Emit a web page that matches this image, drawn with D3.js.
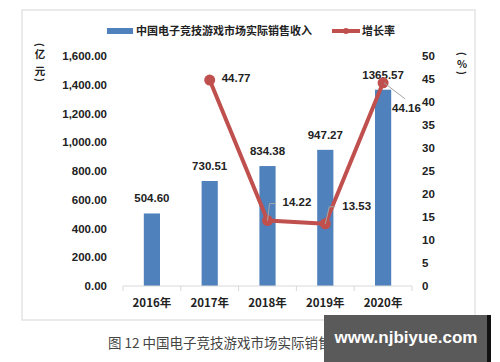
<!DOCTYPE html>
<html>
<head>
<meta charset="utf-8">
<script src="https://cdn.jsdelivr.net/npm/d3@7"></script>
<style>
  body { margin: 0; background: #fff; }
  svg text { font-family: "Liberation Sans", "Noto Sans CJK SC", sans-serif; }
  .cjk { font-family: "Noto Sans CJK SC", sans-serif; }
</style>
</head>
<body>
<svg id="chart" width="500" height="362"></svg>
<script>
var years = ['2016年', '2017年', '2018年', '2019年', '2020年'];
var revenue = [504.60, 730.51, 834.38, 947.27, 1365.57];
var growth = [null, 44.77, 14.22, 13.53, 44.16];
var leftTicks = [0, 200, 400, 600, 800, 1000, 1200, 1400, 1600];
var rightTicks = [0, 5, 10, 15, 20, 25, 30, 35, 40, 45, 50];

var svg = d3.select('#chart');

// chart frame
svg.append('rect')
  .attr('x', 22).attr('y', 10).attr('width', 453).attr('height', 310)
  .attr('fill', '#fff').attr('stroke', '#e3e3e3').attr('stroke-width', 1.5);

var x = d3.scaleBand().domain(years).range([123, 412])
  .paddingInner(0.72).paddingOuter(0.36);
var yL = d3.scaleLinear().domain([0, 1600]).range([286, 56]);
var yR = d3.scaleLinear().domain([0, 50]).range([286, 56]);

// left axis
var axL = svg.append('g').attr('transform', 'translate(110,0)')
  .call(d3.axisLeft(yL).tickValues(leftTicks).tickSize(0)
    .tickFormat(d3.format(',.2f')));
axL.select('.domain').remove();
axL.selectAll('text').attr('font-size', 11.5).attr('font-weight', 'bold')
  .attr('fill', '#222').attr('font-family', 'Liberation Sans');

// right axis
var axR = svg.append('g').attr('transform', 'translate(419,0)')
  .call(d3.axisRight(yR).tickValues(rightTicks).tickSize(0));
axR.select('.domain').remove();
axR.selectAll('text').attr('font-size', 11.5).attr('font-weight', 'bold')
  .attr('fill', '#222').attr('font-family', 'Liberation Sans');

// bars
svg.selectAll('rect.bar').data(revenue).enter().append('rect')
  .attr('class', 'bar')
  .attr('x', function(d, i) { return x(years[i]); })
  .attr('y', function(d) { return yL(d); })
  .attr('width', x.bandwidth())
  .attr('height', function(d) { return yL(0) - yL(d); })
  .attr('fill', '#4f81bd');

// x axis
var axX = svg.append('g').attr('transform', 'translate(0,' + yL(0) + ')');
axX.append('line').attr('x1', 123).attr('x2', 412)
  .attr('stroke', '#d9d9d9').attr('stroke-width', 1);
var bounds = years.map(function(d) { return x(d) - x.step() * x.paddingInner() / 2; });
bounds.push(412);
axX.selectAll('line.tk').data(bounds).enter().append('line')
  .attr('class', 'tk')
  .attr('x1', function(d) { return d; }).attr('x2', function(d) { return d; })
  .attr('y1', 0).attr('y2', 5)
  .attr('stroke', '#d9d9d9');
axX.selectAll('text').data(years).enter().append('text')
  .attr('class', 'cjk')
  .attr('x', function(d) { return x(d) + x.bandwidth() / 2; })
  .attr('y', 21)
  .attr('text-anchor', 'middle')
  .attr('font-size', 11.5).attr('font-weight', 'bold').attr('fill', '#222')
  .text(function(d) { return d; });

// bar labels
svg.selectAll('text.blab').data(revenue).enter().append('text')
  .attr('class', 'blab')
  .attr('x', function(d, i) { return x(years[i]) + x.bandwidth() / 2; })
  .attr('y', function(d) { return yL(d) - 11; })
  .attr('text-anchor', 'middle')
  .attr('font-size', 11.5).attr('font-weight', 'bold').attr('fill', '#222')
  .text(function(d) { return d.toFixed(2); });

// growth line
var pts = growth.map(function(d, i) {
  return { v: d, x: x(years[i]) + x.bandwidth() / 2, y: d == null ? null : yR(d) };
}).filter(function(d) { return d.v != null; });

svg.append('path')
  .datum(pts)
  .attr('d', d3.line().x(function(d) { return d.x; }).y(function(d) { return d.y; }))
  .attr('fill', 'none').attr('stroke', '#c0504d').attr('stroke-width', 4)
  .attr('stroke-linejoin', 'round');

svg.selectAll('circle.pt').data(pts).enter().append('circle')
  .attr('class', 'pt')
  .attr('cx', function(d) { return d.x; }).attr('cy', function(d) { return d.y; })
  .attr('r', 5.5).attr('fill', '#c0504d');

// growth labels with leader lines
var labOff = [
  { dx: 12, dy: 2, lead: null },
  { dx: 15, dy: -15, lead: [[0, 0], [2, -17], [8, -17]] },
  { dx: 17, dy: -14, lead: [[0, 0], [4, -17], [10, -17]] },
  { dx: 9, dy: 29, lead: [[1, 0], [22, 16]] }
];
pts.forEach(function(p, i) {
  var o = labOff[i];
  if (o.lead) {
    svg.append('path')
      .attr('d', d3.line()(o.lead.map(function(q) { return [p.x + q[0], p.y + q[1]]; })))
      .attr('fill', 'none').attr('stroke', '#a6a6a6').attr('stroke-width', 1);
  }
  svg.append('text')
    .attr('x', p.x + o.dx).attr('y', p.y + o.dy)
    .attr('font-size', 11.5).attr('font-weight', 'bold').attr('fill', '#222')
    .text(p.v.toFixed(2));
});

// axis titles, stacked vertically with rotated brackets
function vtitle(chars, cx, ys) {
  var g = svg.append('g');
  chars.forEach(function(c, i) {
    var t = g.append('text')
      .attr('class', 'cjk')
      .attr('text-anchor', 'middle')
      .attr('dominant-baseline', 'central')
      .attr('font-weight', 'bold').attr('fill', '#222')
      .text(c);
    if (c === '(' || c === ')') {
      t.attr('font-size', 10)
        .attr('transform', 'translate(' + cx + ',' + ys[i] + ') rotate(90)');
    } else {
      t.attr('font-size', 10.5).attr('x', cx).attr('y', ys[i]);
    }
  });
}
vtitle(['(', '亿', '元', ')'], 40, [45, 53, 70, 80]);
vtitle(['(', '%', ')'], 462, [54, 63, 73]);

// legend
var lg = svg.append('g');
lg.append('rect').attr('x', 107).attr('y', 28).attr('width', 26).attr('height', 6)
  .attr('fill', '#4f81bd');
lg.append('text').attr('class', 'cjk').attr('x', 136).attr('y', 35)
  .attr('font-size', 11).attr('font-weight', 'bold').attr('fill', '#222')
  .text('中国电子竞技游戏市场实际销售收入');
lg.append('line').attr('x1', 332).attr('x2', 360).attr('y1', 31).attr('y2', 31)
  .attr('stroke', '#c0504d').attr('stroke-width', 4);
lg.append('circle').attr('cx', 346).attr('cy', 31).attr('r', 3).attr('fill', '#c0504d');
lg.append('text').attr('class', 'cjk').attr('x', 362).attr('y', 35)
  .attr('font-size', 11).attr('font-weight', 'bold').attr('fill', '#222')
  .text('增长率');

// caption
svg.append('text').attr('class', 'cjk')
  .attr('x', 108).attr('y', 348)
  .attr('font-size', 13.5).attr('fill', '#444')
  .text('图 12 中国电子竞技游戏市场实际销售收入及增长率');

// watermark
svg.append('rect').attr('x', 324).attr('y', 315).attr('width', 163).attr('height', 47)
  .attr('fill', '#5a5a5a');
svg.append('rect').attr('x', 487).attr('y', 315).attr('width', 4).attr('height', 47)
  .attr('fill', '#111');
svg.append('text').attr('x', 406).attr('y', 343)
  .attr('text-anchor', 'middle')
  .attr('font-size', 17).attr('font-weight', 'bold').attr('fill', '#fff')
  .attr('font-family', 'DejaVu Sans')
  .text('www.njbiyue.com');
</script>
</body>
</html>
